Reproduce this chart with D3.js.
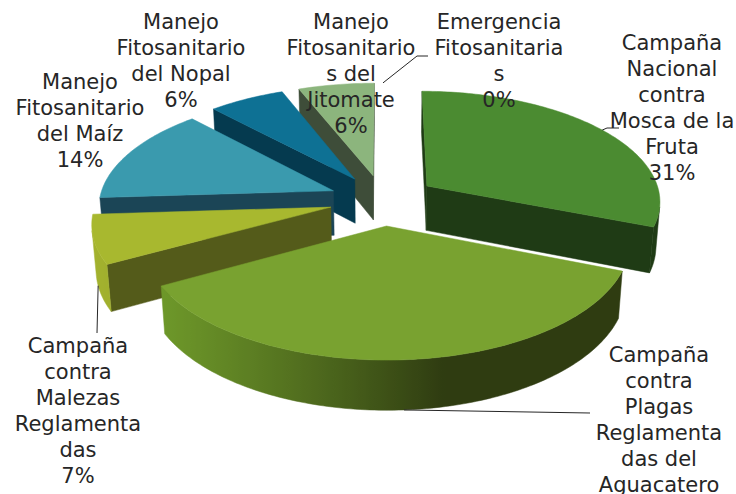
<!DOCTYPE html>
<html lang="es">
<head>
<meta charset="UTF-8">
<title>Distribución por campaña</title>
<script src="https://d3js.org/d3.v7.min.js"></script>
<style>
  body { margin: 0; background: #fff; }
  svg { display: block; font-family: "DejaVu Sans", sans-serif; }
</style>
</head>
<body>
<div id="chart"></div>
<script>
// values, clockwise from 12 o'clock
const categories = [
  "Campaña Nacional contra Mosca de la Fruta",
  "Campaña contra Plagas Reglamentadas del Aguacatero",
  "Campaña contra Malezas Reglamentadas",
  "Manejo Fitosanitario del Maíz",
  "Manejo Fitosanitario del Nopal",
  "Manejo Fitosanitarios del Jitomate",
  "Emergencias Fitosanitarias"
];
const values = [31, 36, 7, 14, 6, 6, 0];
// label text, wrapped the way the original wraps it
const labelLines = [
  ["Campaña", "Nacional", "contra", "Mosca de la", "Fruta"],
  ["Campaña", "contra", "Plagas", "Reglamenta", "das del", "Aguacatero"],
  ["Campaña", "contra", "Malezas", "Reglamenta", "das"],
  ["Manejo", "Fitosanitario", "del Maíz"],
  ["Manejo", "Fitosanitario", "del Nopal"],
  ["Manejo", "Fitosanitario", "s del", "Jitomate"],
  ["Emergencia", "Fitosanitaria", "s"]
];

// colours
const topColors  = ["#4b8b31", "#79a230", "#a8b82f", "#3a9aae", "#0e7194", "#8cb57d", "#888888"];
const sideColors = ["#1f3b15", "#2f3c11", "#545b1a", "#1b4556", "#053a4f", "#3e4d39", "#444444"];
const wallLight  = ["#4a8530", "#6f9a2a", "#a3b22e", "#3591a5", "#0c6a8c", "#84ad76", "#888888"];

// layout: label centre x and first baseline, leader bend/end points
const labelPos = [[672, 50], [659, 362], [78, 353], [80, 89], [181, 29], [351, 29], [499, 29]];
const leaderEnds = { 0: [[607, 128], [619, 128]], 1: [[590, 413]], 2: [[97, 333]], 6: [[417, 56], [428, 56]] };

const W = 736, H = 494;
const cam = { cx: 383, cy: 200, f: 1640, dist: 7, tilt: 28 * Math.PI / 180 };
const explode = 0.23, depth = 0.22;
const cosT = Math.cos(cam.tilt), sinT = Math.sin(cam.tilt);
const camPos = [0, cam.dist * sinT, -cam.dist * cosT];

// simple perspective: disc lies in x/z, y is up, z goes away from viewer
function project(p) {
  const [x, y, z] = p;
  const yc = y * cosT + z * sinT;
  const zc = cam.dist + z * cosT - y * sinT;
  return [cam.cx + cam.f * x / zc, cam.cy - cam.f * yc / zc];
}
function facesCamera(p, n) {
  return (p[0] - camPos[0]) * n[0] + (p[1] - camPos[1]) * n[1] + (p[2] - camPos[2]) * n[2] < 0;
}

const svg = d3.select("#chart").append("svg")
  .attr("width", W).attr("height", H);
const defs = svg.append("defs");

const arcs = d3.pie().sort(null).value(d => d)(values);
const line = d3.line();
const step = Math.PI / 180;

const slices = arcs.map((a, i) => {
  const m = (a.startAngle + a.endAngle) / 2;
  const ox = explode * Math.sin(m), oz = explode * Math.cos(m);
  const rim = (t, y) => [ox + Math.sin(t), y, oz + Math.cos(t)];
  return { i, a, m, ox, oz, rim, order: oz + 0.5 * Math.cos(m) };
});

const gPie = svg.append("g");

// far slices first
slices.slice().sort((s1, s2) => s2.order - s1.order).forEach(s => {
  const { a, i, ox, oz, rim } = s;
  if (a.endAngle - a.startAngle <= 0) return;
  const a0 = a.startAngle, a1 = a.endAngle;
  const g = gPie.append("g");
  const faces = [];

  const ts = d3.range(a0, a1, step).concat([a1]);

  // radial sides
  const n0 = [-Math.cos(a0), 0, Math.sin(a0)];
  if (facesCamera(rim(a0, 0), n0)) {
    faces.push({ pts: [[ox, 0, oz], rim(a0, 0), rim(a0, -depth), [ox, -depth, oz]], fill: sideColors[i] });
  }
  const n1 = [Math.cos(a1), 0, -Math.sin(a1)];
  if (facesCamera(rim(a1, 0), n1)) {
    faces.push({ pts: [[ox, 0, oz], rim(a1, 0), rim(a1, -depth), [ox, -depth, oz]], fill: sideColors[i] });
  }

  // outer wall: the part that faces the viewer, shaded with light from the left
  const vis = ts.filter((t, k) => {
    const ta = k > 0 ? (ts[k - 1] + t) / 2 : t;
    const tb = k < ts.length - 1 ? (ts[k + 1] + t) / 2 : t;
    return facesCamera(rim(ta, 0), [Math.sin(ta), 0, Math.cos(ta)]) ||
           facesCamera(rim(tb, 0), [Math.sin(tb), 0, Math.cos(tb)]);
  });
  if (vis.length > 1) {
    const shade = t => {
      const lit = Math.max(0, Math.min(1, (-0.95 * Math.sin(t) - 0.3 * Math.cos(t) - 0.1) / 0.9));
      return d3.interpolateRgb(sideColors[i], wallLight[i])(lit);
    };
    const stops = vis.map(t => ({ x: project(rim(t, 0))[0], c: shade(t) }))
      .sort((p, q) => p.x - q.x);
    const x0 = stops[0].x, x1 = stops[stops.length - 1].x;
    const gid = "wall" + i;
    defs.append("linearGradient")
      .attr("id", gid)
      .attr("gradientUnits", "userSpaceOnUse")
      .attr("x1", x0).attr("x2", x1).attr("y1", 0).attr("y2", 0)
      .selectAll("stop").data(stops).join("stop")
      .attr("offset", d => x1 > x0 ? (d.x - x0) / (x1 - x0) : 0)
      .attr("stop-color", d => d.c);
    faces.push({
      pts: vis.map(t => rim(t, 0)).concat(vis.slice().reverse().map(t => rim(t, -depth))),
      fill: `url(#${gid})`
    });
  }

  // top
  faces.push({ pts: [[ox, 0, oz]].concat(ts.map(t => rim(t, 0))), fill: topColors[i] });

  g.selectAll("path").data(faces).join("path")
    .attr("d", d => line(d.pts.map(project)) + "Z")
    .attr("fill", d => d.fill)
    .attr("stroke", d => d.fill)
    .attr("stroke-width", 0.5)
    .attr("stroke-linejoin", "round");
});

// leader lines
const gLeaders = svg.append("g");
Object.keys(leaderEnds).forEach(key => {
  const s = slices[+key];
  const front = Math.cos(s.m) < 0;
  const start = project(s.rim(s.m, front ? -depth : 0));
  gLeaders.append("path")
    .attr("d", line([start].concat(leaderEnds[key])))
    .attr("fill", "none")
    .attr("stroke", "#262626")
    .attr("stroke-width", 1);
});

// labels
const gLabels = svg.append("g")
  .attr("font-size", 21)
  .attr("fill", "#262626")
  .attr("text-anchor", "middle");

slices.forEach(s => {
  const lines = labelLines[s.i].concat([values[s.i] + "%"]);
  const [x, y] = labelPos[s.i];
  const t = gLabels.append("text").attr("x", x).attr("y", y);
  t.selectAll("tspan").data(lines).join("tspan")
    .attr("x", x)
    .attr("dy", (d, k) => k === 0 ? 0 : 26)
    .text(d => d);
});
</script>
</body>
</html>
